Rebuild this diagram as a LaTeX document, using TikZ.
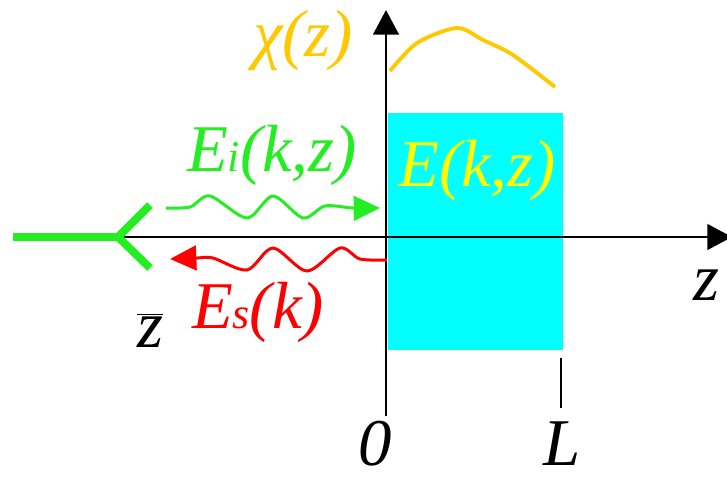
\documentclass[tikz,border=0pt]{standalone}
\usepackage{fontspec}
\setmainfont{Liberation Serif}
\usetikzlibrary{arrows.meta,positioning,calc}
\definecolor{Wave}{HTML}{22EE22}
\definecolor{Gold}{HTML}{FFC800}
\definecolor{Slab}{HTML}{00FFFF}
\definecolor{Bright}{HTML}{FFFF00}
\newcommand\lowidx[1]{{\fontsize{25}{25}\selectfont #1}}

\begin{document}
\begin{tikzpicture}[x=0.02cm,y=-0.02cm,
  lbl/.style={font=\fontsize{38}{40}\selectfont\itshape,inner sep=0pt},
  axis/.style={line width=1.7pt,-{Triangle[length=14pt,width=14.5pt]}},
  wavy/.style={line width=1.7pt,-{Triangle[length=15pt,width=14pt]}}]
\useasboundingbox (0,0) rectangle (727,477);
\fill[Slab] (388,113) rectangle (563,350);
\coordinate (zl) at (120,237); \coordinate (zr) at (732,237);
\coordinate (ob) at (386,416); \coordinate (ot) at (386,10);
\draw[axis] (zl) -- (zr);
\draw[axis] (ob) -- (ot);
\draw[line width=1.2pt] (561,358) -- (561,408);
% incoming and scattered waves
\draw[wavy,Wave] plot[smooth] coordinates {(166,208) (190,207) (210,196) (247,218) (273,196) (303,218) (325,206) (353,208) (380,208)};
\draw[wavy,red] plot[smooth] coordinates {(387,260) (360,259) (340,248) (307,271) (273,248) (247,270) (213,258) (197,258) (170,259)};
\draw[Wave,line width=4.5pt] (13,237) -- (118,237) coordinate (fork);
\draw[Wave,line width=4.5pt] (fork) -- (150,205) (fork) -- (150,268);
\draw[Gold,line width=2.2pt] plot[smooth] coordinates {(390,71) (417,43) (457,28) (483,40) (513,55) (555,87)};
\node[lbl,text=Gold] (chi) at (303,40) {χ(z)};
\node[lbl,text=Wave] (Ei) at (272,155) {E\lowidx{i}(k,z)};
\node[lbl,text=Bright] (Ekz) at (477,170) {E(k,z)};
\node[lbl,text=red] (Es) at (258,312) {E\lowidx{s}(k)};
\node[lbl] (zbar) at (150,330) {$\overline{\mbox{\itshape z}}$};
\node[lbl] (zax) at (706,285) {z};
\node[lbl] (zero) at (375,444) {0};
\node[lbl] (len) at (562,444) {L};
\end{tikzpicture}
\end{document}
